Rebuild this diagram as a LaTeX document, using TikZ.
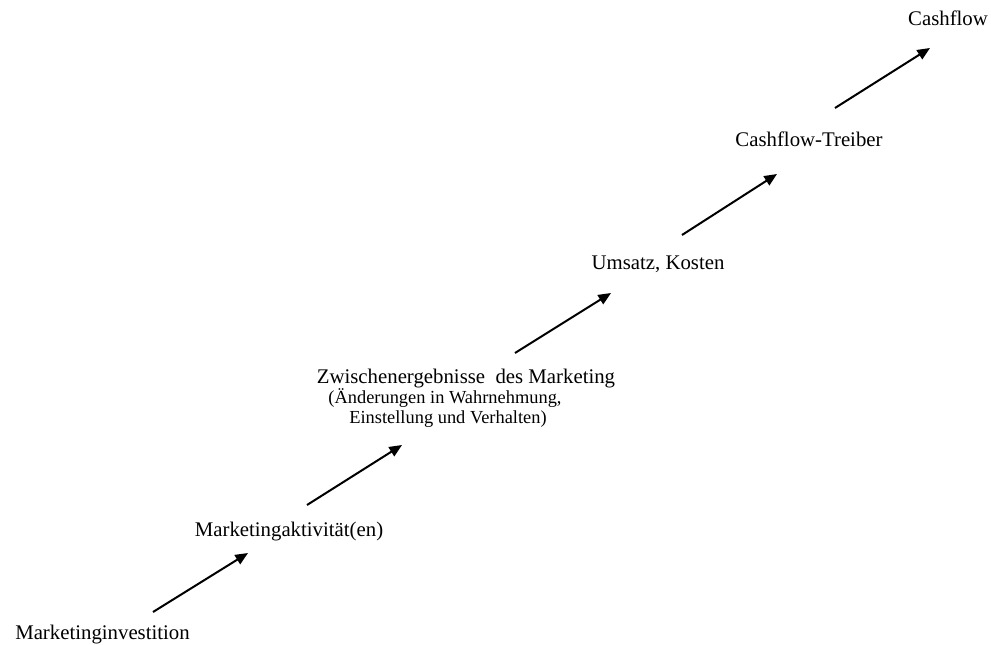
\documentclass[tikz,border=0pt]{standalone}
\usepackage{fontspec}
\setmainfont{Liberation Serif}
\usetikzlibrary{arrows.meta}
\begin{document}
\begin{tikzpicture}[x=0.75pt,y=-0.75pt,
  lbl/.style={anchor=base,inner sep=0pt,font=\fontsize{15.6}{18}\selectfont},
  sublbl/.style={anchor=base,inner sep=0pt,font=\fontsize{13.8}{15}\selectfont},
  arr/.style={line width=1.5pt,-{Triangle[length=9.5pt,width=8pt]}}]
\useasboundingbox (0,0) rectangle (991,645);
\node[lbl] (n1) at (102.5,639) {Marketinginvestition};
\node[lbl] (n2) at (289,536) {Marketingaktivität(en)};
\node[lbl] (n3) at (466,383) {Zwischenergebnisse\ \ des Marketing};
\node[sublbl] (n3b) at (445,403) {(Änderungen in Wahrnehmung,};
\node[sublbl] (n3c) at (448,423) {Einstellung und Verhalten)};
\node[lbl] (n4) at (658,269) {Umsatz, Kosten};
\node[lbl] (n5) at (809,147) {Cashflow-Treiber};
\node[lbl] (n6) at (948,26) {Cashflow};
\coordinate (a1s) at (153,612); \coordinate (a1e) at (248,553);
\coordinate (a2s) at (307,505); \coordinate (a2e) at (402,445);
\coordinate (a3s) at (515,353); \coordinate (a3e) at (611,293);
\coordinate (a4s) at (682,235); \coordinate (a4e) at (777,174);
\coordinate (a5s) at (835,108); \coordinate (a5e) at (930,48);
\draw[arr] (a1s) -- (a1e);
\draw[arr] (a2s) -- (a2e);
\draw[arr] (a3s) -- (a3e);
\draw[arr] (a4s) -- (a4e);
\draw[arr] (a5s) -- (a5e);
\end{tikzpicture}
\end{document}
